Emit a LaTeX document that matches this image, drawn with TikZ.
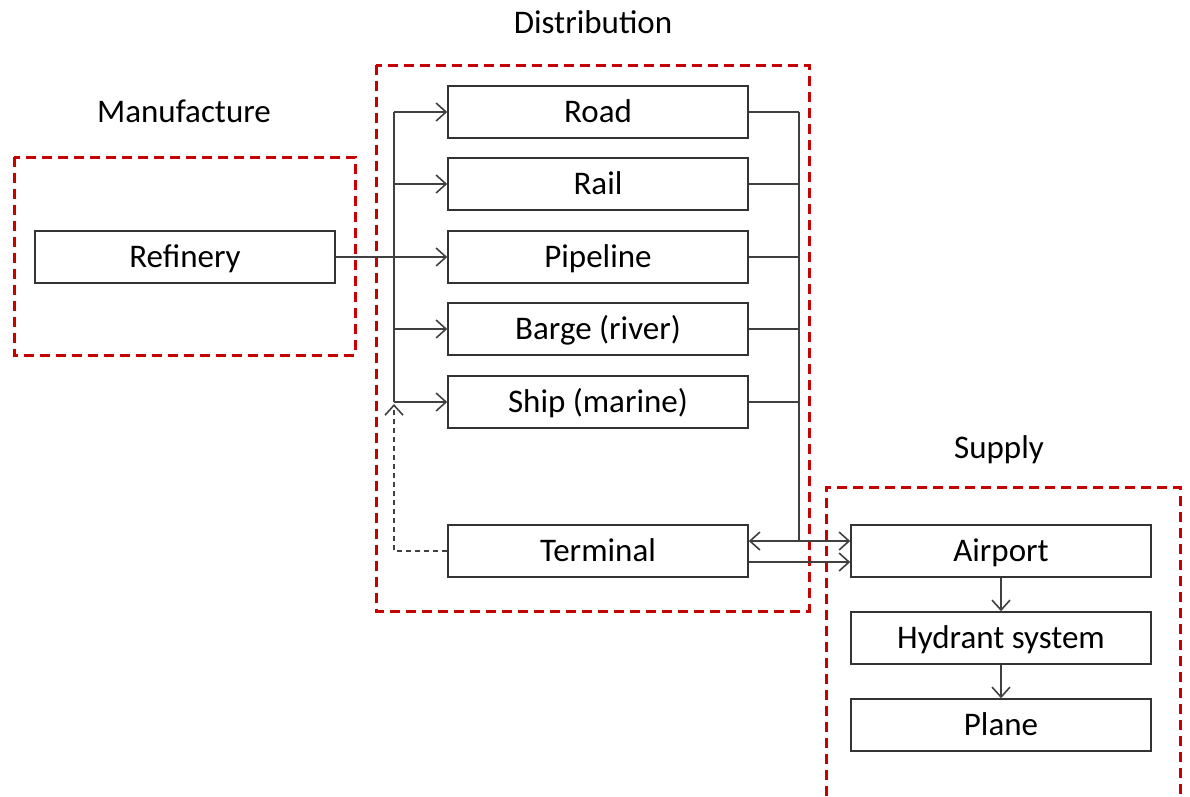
\documentclass[tikz,border=0pt]{standalone}
\usepackage{fontspec}
\setmainfont{Carlito}
\usetikzlibrary{arrows.meta,calc}
\definecolor{zoneRed}{RGB}{200,0,0}
\tikzset{
	stage/.style={draw=black!80,line width=1.5pt,minimum width=300pt,minimum height=52pt,inner sep=0pt,text height=25pt,text depth=4pt},
	zone/.style={draw=zoneRed,line width=3pt,dash pattern=on 10pt off 6pt},
	zonelabel/.style={text=black},
	link/.style={draw=black!75,line width=1.6pt},
	dirlink/.style={link,-{Straight Barb[length=10pt,width=18pt,line width=1.6pt]}},
	bilink/.style={link,{Straight Barb[length=10pt,width=18pt,line width=1.6pt]}-{Straight Barb[length=10pt,width=18pt,line width=1.6pt]}},
	backlink/.style={link,black!75,dash pattern=on 5pt off 4pt,-{Straight Barb[length=10pt,width=18pt,line width=1.6pt]}}
}
\begin{document}
\begin{tikzpicture}[x=1pt,y=-1pt,font=\fontsize{33}{40}\selectfont]
	\useasboundingbox (0,0) rectangle (1190,796);

	% zones
	\draw[zone] (14,157) rectangle (355,355);
	\draw[zone] (376,65) rectangle (809,611);
	\draw[zone] (826,796) -- (826,487) -- (1180,487) -- (1180,796);
	\node[zonelabel] (manuf) at (184,111) {Manufacture};
	\node[zonelabel] (distr) at (593,22) {Distribution};
	\node[zonelabel] (suppl) at (999,450) {Supply};

	% stages
	\node[stage] (refinery) at (185,257) {Refinery};
	\node[stage] (road) at (598,112) {Road};
	\node[stage] (rail) at (598,184) {Rail};
	\node[stage] (pipeline) at (598,257) {Pipeline};
	\node[stage] (barge) at (598,329) {Barge (river)};
	\node[stage] (ship) at (598,402) {Ship (marine)};
	\node[stage] (terminal) at (598,551) {Terminal};
	\node[stage] (airport) at (1001,551) {Airport};
	\node[stage] (hydrant) at (1001,638) {Hydrant system};
	\node[stage] (plane) at (1001,725) {Plane};

	\coordinate (lbus) at (394,0);
	\coordinate (rbus) at (799,0);
	\coordinate (tup) at ([yshift=10pt]terminal.east);
	\coordinate (tdown) at ([yshift=-11pt]terminal.east);
	\coordinate (aup) at ([yshift=10pt]airport.west);
	\coordinate (adown) at ([yshift=-11pt]airport.west);
	\coordinate (shipin) at ([yshift=-2pt]lbus |- ship.west);

	% left bus
	\draw[link] (lbus |- road.west) -- (lbus |- ship.west);
	\foreach \s in {road,rail,barge,ship}
		\draw[dirlink] (lbus |- \s.west) -- (\s.west);
	\draw[dirlink] (refinery.east) -- (pipeline.west);
	\draw[backlink] (terminal.west) -- (lbus |- terminal.west) -- (shipin);

	% right bus
	\foreach \s in {road,rail,pipeline,barge,ship}
		\draw[link] (\s.east) -- (rbus |- \s.east);
	\draw[link] (rbus |- road.east) -- (rbus |- tup);
	\draw[bilink] (tup) -- (aup);
	\draw[dirlink] (tdown) -- (adown);

	% supply chain
	\draw[dirlink] (airport) -- (hydrant);
	\draw[dirlink] (hydrant) -- (plane);
\end{tikzpicture}
\end{document}
